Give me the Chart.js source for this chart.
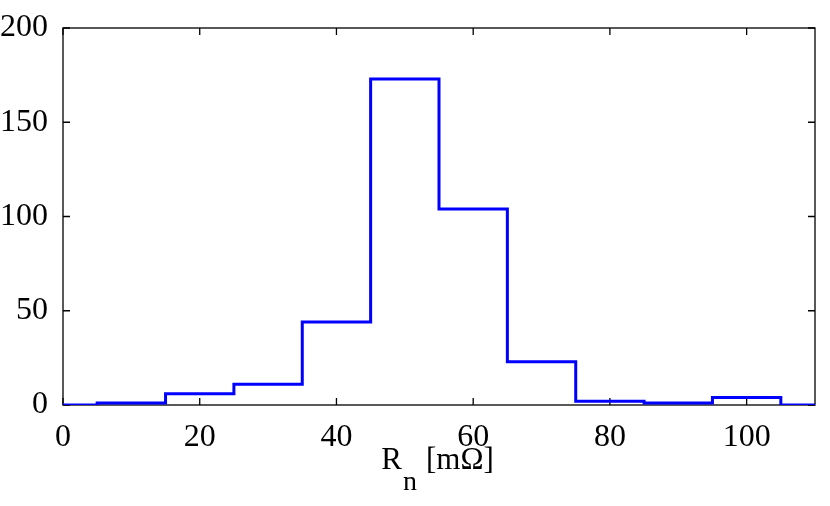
<!DOCTYPE html>
<html>
<head>
<meta charset="utf-8">
<script src="https://cdn.jsdelivr.net/npm/chart.js@4.4.1/dist/chart.umd.min.js"></script>
<style>
    html, body { margin: 0; padding: 0; background: #fff; }
</style>
</head>
<body>
<canvas id="chart" width="830" height="506"></canvas>
<script>
// histogram of R_n, bins 10 wide
const binCenters = [10, 20, 30, 40, 50, 60, 70, 80, 90, 100];
const counts = [1, 6, 11, 44, 173, 104, 23, 2, 1, 4];
const binWidth = 10;
const xRange = [0, 110];
const xTicks = [0, 20, 40, 60, 80, 100];
const yTicks = [0, 50, 100, 150, 200];

const buildStairs = () => {
    let pts = [{ x: xRange[0], y: 0 }];
    binCenters.forEach((c, i) => {
        pts.push({ x: c - binWidth / 2, y: counts[i] });
    });
    pts.push({ x: binCenters[binCenters.length - 1] + binWidth / 2, y: 0 });
    pts.push({ x: xRange[1], y: 0 });
    return pts;
};

// box around the axes + inward ticks on all four sides
const boxTicks = {
    id: 'boxTicks',
    beforeDatasetsDraw(chart) {
        const { ctx, chartArea: a, scales: { x, y } } = chart;
        const len = 7;
        ctx.save();
        ctx.strokeStyle = '#000';
        ctx.lineWidth = 1.3;
        ctx.strokeRect(a.left, a.top, a.right - a.left, a.bottom - a.top);
        ctx.beginPath();
        xTicks.forEach((v) => {
            const px = x.getPixelForValue(v);
            ctx.moveTo(px, a.bottom); ctx.lineTo(px, a.bottom - len);
            ctx.moveTo(px, a.top); ctx.lineTo(px, a.top + len);
        });
        yTicks.forEach((v) => {
            const py = y.getPixelForValue(v);
            ctx.moveTo(a.left, py); ctx.lineTo(a.left + len, py);
            ctx.moveTo(a.right, py); ctx.lineTo(a.right - len, py);
        });
        ctx.stroke();
        ctx.restore();
    }
};

// x label with subscript: R_n [mΩ]
const xLabel = {
    id: 'xLabel',
    afterDraw(chart) {
        const { ctx, chartArea: a } = chart;
        const fam = '"Liberation Serif", "Times New Roman", serif';
        ctx.save();
        ctx.fillStyle = '#000';
        ctx.textBaseline = 'alphabetic';
        ctx.font = `31px ${fam}`;
        const wR = ctx.measureText('R').width;
        const wRest = ctx.measureText('[mΩ]').width;
        ctx.font = `28px ${fam}`;
        const wN = ctx.measureText('n').width;
        const gap1 = 1, gap2 = 9;
        const total = wR + gap1 + wN + gap2 + wRest;
        let xs = (a.left + a.right) / 2 - total / 2 - 1.5;
        const base = a.bottom + 64;

        ctx.font = `31px ${fam}`;
        ctx.fillText('R', xs, base);
        xs += wR + gap1;
        ctx.font = `28px ${fam}`;
        ctx.fillText('n', xs, base + 21);
        xs += wN + gap2;
        ctx.font = `31px ${fam}`;
        ctx.fillText('[mΩ]', xs, base);
        ctx.restore();
    }
};

Chart.defaults.font.family = '"Liberation Serif", "Times New Roman", serif';
Chart.defaults.font.size = 32;
Chart.defaults.color = '#000';

new Chart(document.getElementById('chart'), {
    type: 'line',
    data: {
        datasets: [{
            data: buildStairs(),
            stepped: 'before',
            borderColor: '#0000ff',
            borderWidth: 3,
            pointRadius: 0,
            fill: false
        }]
    },
    options: {
        responsive: false,
        animation: false,
        layout: { padding: { top: 28, right: 15, left: 0, bottom: 0 } },
        plugins: { legend: { display: false }, tooltip: { enabled: false } },
        scales: {
            x: {
                type: 'linear',
                min: xRange[0],
                max: xRange[1],
                grid: { display: false },
                border: { display: false },
                afterBuildTicks: (scale) => { scale.ticks = xTicks.map((v) => ({ value: v })); },
                afterFit: (scale) => { scale.height = 101; },
                ticks: { padding: 5, maxRotation: 0, autoSkip: false }
            },
            y: {
                min: yTicks[0],
                max: yTicks[yTicks.length - 1],
                grid: { display: false },
                border: { display: false },
                afterBuildTicks: (scale) => { scale.ticks = yTicks.map((v) => ({ value: v })); },
                afterFit: (scale) => { scale.width = 63; },
                ticks: { padding: 7 }
            }
        }
    },
    plugins: [boxTicks, xLabel]
});
</script>
</body>
</html>
